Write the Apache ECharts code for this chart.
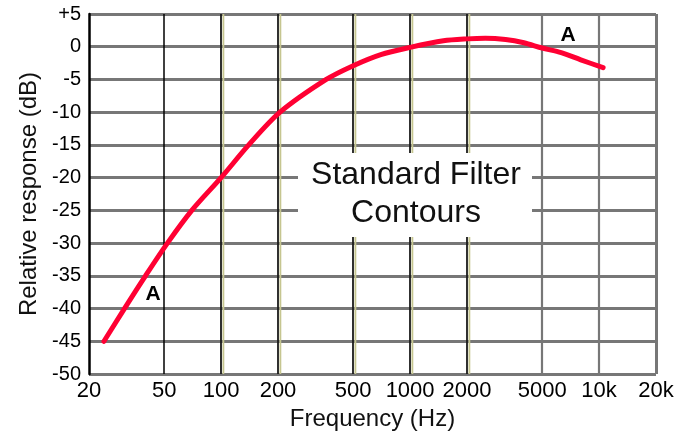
<!DOCTYPE html>
<html><head><meta charset="utf-8">
<script src="https://cdn.jsdelivr.net/npm/echarts@6/dist/echarts.min.js"></script>
<style>html,body{margin:0;padding:0;background:#fff}#c{width:694px;height:437px}</style>
</head><body><div id="c"></div>
<script>
// ---- data ----
const freqTicks = [20, 50, 100, 200, 500, 1000, 2000, 5000, 10000, 20000];
const freqTickLabels = ['20', '50', '100', '200', '500', '1000', '2000', '5000', '10k', '20k'];
const dbMin = -50, dbMax = 5, dbStep = 5;
const curveFreq = [24, 30.8, 39.8, 52, 70, 100, 140, 205, 360, 500, 700, 1000, 1500, 2000, 2500, 3200, 4000, 5000, 6300, 8000, 10500];
const curveDb   = [-45, -40, -35, -30, -25, -20, -15, -10, -5, -2.9, -1.2, -0.1, 0.9, 1.2, 1.3, 1.1, 0.6, -0.2, -0.9, -2.0, -3.2];
const blackLines = [50];
const khakiLines = [100, 200, 500, 1000, 2000];
const grayLines = [5000, 10000];
const borderLines = [20000];
const annoFreq = [43.6, 6845];
const annoDb = [-37.8, 1.8];
const annoText = ['A', 'A'];
const boxText = 'Standard Filter\nContours';

// ---- chart ----
const FONT = '"Liberation Sans", Arial, sans-serif';
const chart = echarts.init(document.getElementById('c'), null, {renderer: 'canvas'});

function freqLabel(v) {
  let best = 0, bd = Infinity;
  freqTicks.forEach((t, i) => { const d = Math.abs(Math.log(v / t)); if (d < bd) { bd = d; best = i; } });
  return freqTickLabels[best];
}

const vLines = [];
blackLines.forEach(f => vLines.push({xAxis: f, lineStyle: {color: '#000', width: 1.5, type: 'solid'}}));
khakiLines.forEach(f => vLines.push({xAxis: f, lineStyle: {color: '#1a1a1a', width: 1.8, type: 'solid', shadowColor: '#c6c690', shadowOffsetX: 2.4, shadowBlur: 0}}));
grayLines.forEach(f => vLines.push({xAxis: f, lineStyle: {color: '#777', width: 2.2, type: 'solid'}}));
borderLines.forEach(f => vLines.push({xAxis: f, lineStyle: {color: '#777', width: 3, type: 'solid'}}));

const option = {
  animation: false,
  backgroundColor: '#fff',
  grid: {left: 89, right: 38, top: 14, bottom: 63, containLabel: false},
  xAxis: {
    type: 'log', logBase: 10, min: 20, max: 20000,
    name: 'Frequency (Hz)', nameLocation: 'middle', nameGap: 33,
    nameTextStyle: {fontFamily: FONT, fontSize: 24, color: '#111'},
    axisLine: {show: false},
    axisTick: {show: false},
    splitLine: {show: false},
    minorTick: {show: false}, minorSplitLine: {show: false},
    axisLabel: {
      customValues: freqTicks, formatter: freqLabel,
      fontFamily: FONT, fontSize: 22, color: '#000', margin: 6,
      showMinLabel: true, showMaxLabel: true, hideOverlap: false
    }
  },
  yAxis: {
    type: 'value', min: dbMin, max: dbMax, interval: dbStep,
    name: 'Relative response (dB)', nameLocation: 'middle', nameGap: 46,
    nameTextStyle: {fontFamily: FONT, fontSize: 24, color: '#111'},
    axisLine: {show: true, lineStyle: {color: '#000', width: 2.5}},
    axisTick: {show: false},
    splitLine: {show: true, lineStyle: {color: '#777', width: 3}},
    axisLabel: {
      fontFamily: FONT, fontSize: 20, color: '#000', margin: 8,
      formatter: v => (v > 0 ? '+' + v : String(v))
    }
  },
  graphic: [
    {type: 'rect', left: 298, top: 153, z: 10, shape: {width: 234, height: 84}, style: {fill: '#fff'}},
    {type: 'text', x: 416, y: 194, z: 11, style: {text: boxText, fontFamily: FONT, fontSize: 32, fill: '#111', align: 'center', verticalAlign: 'middle', lineHeight: 38}}
  ],
  series: [
    {
      type: 'line', data: [], z: 1, silent: true,
      markLine: {silent: true, symbol: ['none', 'none'], label: {show: false}, animation: false, data: vLines}
    },
    {
      type: 'line', z: 5, smooth: 0.3, symbol: 'none',
      lineStyle: {color: '#ff0033', width: 5, cap: 'round', join: 'round'},
      data: curveFreq.map((f, i) => [f, curveDb[i]]),
      markPoint: {
        silent: true, animation: false,
        symbol: 'circle', symbolSize: 1, itemStyle: {color: 'rgba(0,0,0,0)'},
        label: {show: true, position: 'inside', formatter: p => p.name, fontFamily: FONT, fontSize: 21, fontWeight: 'bold', color: '#000'},
        data: annoFreq.map((f, i) => ({name: annoText[i], coord: [f, annoDb[i]]}))
      }
    }
  ]
};
chart.setOption(option);
</script>
</body></html>
